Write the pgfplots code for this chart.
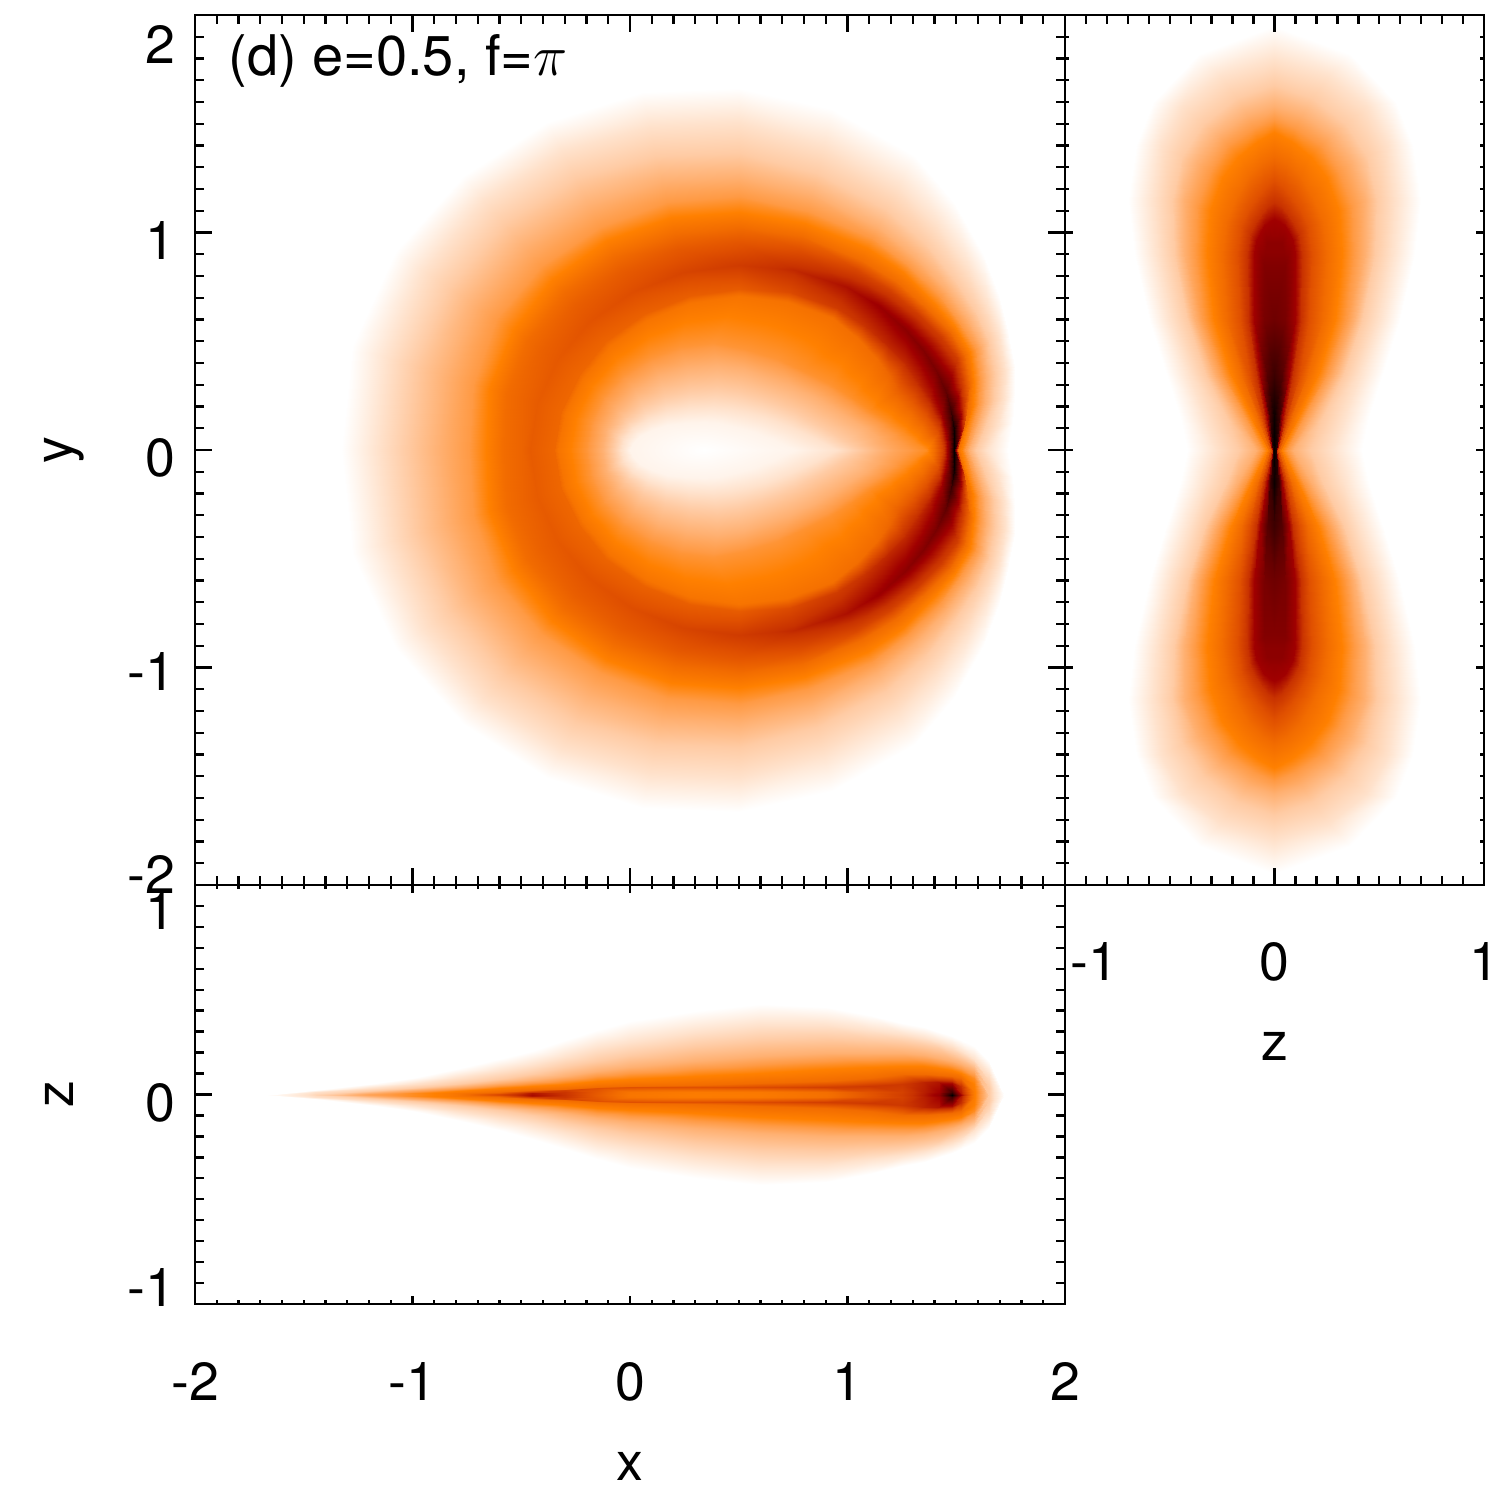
\documentclass[border=0pt]{standalone}
\usepackage{fontspec}
\setmainfont{TeX Gyre Heros}
\usepackage{pgfplots}
\usepackage{pgfplotstable}
\pgfplotsset{compat=1.18}

% x-y panel, upper half: one row per density contour, 17 points along each, from y=0 on the left round to y=0 on the right
\pgfplotstableread[row sep=\\]{
x y c\\
-1.33 0 0\\ -1.278 .476 0\\ -1.08 .91 0\\ -.769 1.262 0\\ -.38 1.51 0\\ .053 1.645 0\\ .5 1.666 0\\ .929 1.567 0\\ 1.304 1.358 0\\ 1.49 1.14 0\\ 1.625 .905 0\\ 1.697 .711 0\\ 1.74 .546 0\\ 1.769 .387 0\\ 1.769 .251 0\\ 1.763 .122 0\\ 1.74 0 0\\
-1.16 0 2\\ -1.115 .425 2\\ -.947 .822 2\\ -.671 1.149 2\\ -.313 1.376 2\\ .09 1.49 2\\ .5 1.506 2\\ .89 1.402 2\\ 1.232 1.215 2\\ 1.413 1.035 2\\ 1.553 .835 2\\ 1.64 .67 2\\ 1.696 .522 2\\ 1.722 .37 2\\ 1.721 .24 2\\ 1.694 .114 2\\ 1.64 0 2\\
-1.03 0 3\\ -.991 .387 3\\ -.831 .744 3\\ -.58 1.043 3\\ -.25 1.25 3\\ .121 1.353 3\\ .5 1.366 3\\ .861 1.275 3\\ 1.179 1.108 3\\ 1.355 .954 3\\ 1.496 .78 3\\ 1.591 .635 3\\ 1.652 .499 3\\ 1.676 .352 3\\ 1.672 .228 3\\ 1.634 .107 3\\ 1.59 0 3\\
-.88 0 4\\ -.848 .342 4\\ -.715 .666 4\\ -.488 .937 4\\ -.188 1.125 4\\ .148 1.236 4\\ .5 1.256 4\\ .838 1.178 4\\ 1.139 1.027 4\\ 1.308 .89 4\\ 1.453 .738 4\\ 1.551 .605 4\\ 1.617 .48 4\\ 1.638 .338 4\\ 1.633 .218 4\\ 1.594 .102 4\\ 1.56 0 4\\
-.74 0 5\\ -.724 .304 5\\ -.615 .60 5\\ -.41 .846 5\\ -.139 1.027 5\\ .171 1.139 5\\ .5 1.166 5\\ .82 1.10 5\\ 1.112 .974 5\\ 1.278 .849 5\\ 1.424 .71 5\\ 1.518 .582 5\\ 1.591 .466 5\\ 1.61 .328 5\\ 1.604 .211 5\\ 1.574 .1 5\\ 1.54 0 5\\
-.66 0 6\\ -.647 .28 6\\ -.54 .55 6\\ -.357 .786 6\\ -.107 .965 6\\ .187 1.071 6\\ .5 1.096 6\\ .806 1.042 6\\ 1.089 .929 6\\ 1.255 .817 6\\ 1.395 .682 6\\ 1.494 .564 6\\ 1.564 .451 6\\ 1.582 .317 6\\ 1.575 .204 6\\ 1.545 .096 6\\ 1.52 0 6\\
-.58 0 7\\ -.571 .257 7\\ -.474 .505 7\\ -.305 .725 7\\ -.072 .893 7\\ .205 .993 7\\ .5 1.026 7\\ .793 .983 7\\ 1.063 .875 7\\ 1.225 .776 7\\ 1.366 .654 7\\ 1.47 .547 7\\ 1.538 .437 7\\ 1.563 .31 7\\ 1.556 .199 7\\ 1.535 .095 7\\ 1.51 0 7\\
-.50 0 7.3\\ -.495 .233 7.3\\ -.408 .461 7.4\\ -.253 .665 7.5\\ -.036 .822 7.6\\ .221 .925 7.7\\ .5 .956 7.8\\ .779 .925 8\\ 1.04 .83 8.3\\ 1.196 .736 8.5\\ 1.331 .62 8.7\\ 1.429 .518 8.7\\ 1.503 .418 8.7\\ 1.526 .296 8.8\\ 1.531 .193 9\\ 1.525 .094 9.5\\ 1.50 0 10\\
-.46 0 7.6\\ -.428 .212 7.6\\ -.337 .414 7.7\\ -.187 .589 7.9\\ .011 .728 8.1\\ .246 .818 8.4\\ .5 .851 8.7\\ .757 .827 9.2\\ 1 .75 9.7\\ 1.143 .663 10.1\\ 1.266 .557 10.4\\ 1.348 .459 10.6\\ 1.406 .366 10.8\\ 1.451 .268 11.3\\ 1.478 .18 12\\ 1.49 .09 12.8\\ 1.488 0 13\\
-.35 0 7.2\\ -.318 .178 7.2\\ -.233 .344 7.2\\ -.109 .499 7.3\\ .063 .625 7.4\\ .27 .71 7.5\\ .5 .741 7.6\\ .733 .725 8.2\\ .951 .652 8.7\\ 1.078 .574 9\\ 1.187 .48 9.2\\ 1.263 .398 9.2\\ 1.318 .319 9.2\\ 1.381 .242 9.5\\ 1.429 .168 10\\ 1.465 .086 11\\ 1.47 0 11\\
-.33 0 6.6\\ -.299 .172 6.6\\ -.217 .333 6.6\\ -.093 .48 6.6\\ .076 .598 6.6\\ .278 .676 6.6\\ .5 .706 6.6\\ .723 .681 6.7\\ .928 .607 6.8\\ 1.04 .521 6.9\\ 1.13 .425 7\\ 1.19 .345 7.2\\ 1.23 .271 7.4\\ 1.301 .212 7.6\\ 1.361 .151 7.8\\ 1.416 .08 8\\ 1.44 0 8.5\\
-.20 0 5.2\\ -.18 .127 5.2\\ -.122 .245 5.2\\ -.03 .346 5.2\\ .09 .424 5.2\\ .23 .473 5.2\\ .38 .49 5.2\\ .527 .466 5.2\\ .674 .417 5.2\\ .792 .368 5.3\\ .919 .304 5.3\\ 1.017 .245 5.4\\ 1.105 .186 5.5\\ 1.193 .127 5.5\\ 1.262 .076 5.5\\ 1.311 .039 5.5\\ 1.36 0 5.5\\
-.13 0 4\\ -.112 .101 4\\ -.059 .195 4\\ .025 .276 4\\ .135 .338 4\\ .263 .377 4\\ .40 .39 4\\ .523 .371 4\\ .646 .332 4\\ .744 .293 4\\ .851 .242 4\\ .933 .195 4\\ 1.007 .148 4\\ 1.081 .101 4\\ 1.138 .06 4.2\\ 1.179 .031 4.4\\ 1.22 0 4.5\\
-.08 0 3\\ -.064 .073 3\\ -.016 .14 3\\ .061 .198 3\\ .16 .242 3\\ .276 .27 3\\ .4 .28 3\\ .498 .266 3\\ .595 .238 3\\ .673 .21 3\\ .758 .174 3\\ .823 .14 3\\ .881 .106 3\\ .94 .073 3\\ .985 .043 3\\ 1.018 .022 3\\ 1.05 0 3\\
-.04 0 2\\ -.026 .052 2\\ .016 .10 2\\ .083 .141 2\\ .17 .173 2\\ .271 .193 2\\ .38 .2 2\\ .466 .19 2\\ .551 .17 2\\ .619 .15 2\\ .694 .124 2\\ .751 .10 2\\ .802 .076 2\\ .853 .052 2\\ .893 .031 2\\ .922 .016 2\\ .95 0 2\\
0 0 .8\\ .012 .034 .8\\ .046 .065 .8\\ .10 .092 .8\\ .17 .113 .8\\ .252 .126 .8\\ .34 .13 .8\\ .403 .124 .8\\ .466 .11 .8\\ .516 .098 .8\\ .571 .081 .8\\ .613 .065 .8\\ .651 .049 .8\\ .689 .034 .8\\ .718 .02 .8\\ .739 .01 .8\\ .76 0 .8\\
.34 0 0\\ .34 0 0\\ .34 0 0\\ .34 0 0\\ .34 0 0\\ .34 0 0\\ .34 0 0\\ .34 0 0\\ .34 0 0\\ .34 0 0\\ .34 0 0\\ .34 0 0\\ .34 0 0\\ .34 0 0\\ .34 0 0\\ .34 0 0\\ .34 0 0\\
}\xyhalf

% z-y panel, one quadrant: 10 points along each contour, from the waist at y=0 to the tip at z=0
\pgfplotstableread[row sep=\\]{
z y c\\
.42 0 0\\ .45 .15 0\\ .52 .35 0\\ .60 .6 0\\ .67 .9 0\\ .70 1.15 0\\ .66 1.4 0\\ .58 1.6 0\\ .36 1.82 0\\ 0 1.95 0\\
.28 0 2\\ .33 .15 2\\ .41 .35 2\\ .50 .6 2\\ .56 .9 2\\ .58 1.15 2\\ .54 1.4 2\\ .44 1.58 2\\ .26 1.72 2\\ 0 1.8 2\\
.17 0 3\\ .23 .15 3\\ .33 .35 3\\ .42 .6 3\\ .48 .9 3\\ .49 1.15 3\\ .44 1.35 3\\ .34 1.5 3\\ .18 1.62 3\\ 0 1.68 3\\
.09 0 4\\ .18 .15 4\\ .29 .35 4\\ .38 .6 4\\ .43 .9 4\\ .43 1.15 4\\ .37 1.32 4\\ .27 1.45 4\\ .13 1.54 4\\ 0 1.58 4\\
.06 0 5\\ .14 .15 5\\ .25 .35 5\\ .34 .6 5\\ .38 .9 5\\ .37 1.12 5\\ .31 1.28 5\\ .22 1.4 5\\ .1 1.48 5\\ 0 1.52 5\\
.035 0 6\\ .11 .15 6\\ .21 .35 6\\ .29 .6 6\\ .32 .9 6\\ .31 1.1 6\\ .25 1.25 6\\ .17 1.35 6\\ .08 1.42 6\\ 0 1.46 6\\
.025 0 7\\ .085 .15 7\\ .16 .35 7\\ .23 .6 7\\ .25 .9 7\\ .23 1.05 7\\ .18 1.17 7\\ .12 1.26 7\\ .06 1.32 7\\ 0 1.35 7\\
.018 0 8\\ .065 .15 8\\ .12 .35 8\\ .165 .6 8\\ .18 .9 8\\ .16 1.03 8\\ .12 1.11 8\\ .08 1.17 8\\ .04 1.21 8\\ 0 1.24 8\\
.014 0 9\\ .05 .15 9\\ .09 .35 9\\ .125 .6 9\\ .13 .9 9\\ .115 1.0 9\\ .09 1.05 9\\ .06 1.09 9\\ .03 1.12 9\\ 0 1.14 9\\
.01 0 10\\ .035 .15 10\\ .07 .35 10\\ .10 .6 10\\ .1 .9 10\\ .09 .96 10\\ .07 1.0 10\\ .05 1.03 10\\ .025 1.05 10\\ 0 1.06 10\\
.007 0 12.5\\ .02 .15 12\\ .035 .35 11.5\\ .05 .6 10.8\\ .05 .85 10.6\\ .045 .91 10.4\\ .035 .95 10.4\\ .02 .97 10.3\\ .01 .99 10.2\\ 0 1 10.2\\
0 0 13\\ 0 .15 12.8\\ 0 .35 12\\ 0 .6 11\\ 0 .85 10.6\\ 0 .91 10.4\\ 0 .95 10.4\\ 0 .97 10.3\\ 0 .99 10.2\\ 0 1 10.2\\
}\zyquad

% x-z panel, upper half: 22 columns in x, 9 rows from the edge in to z=0
\pgfplotstableread[row sep=\\]{
x z c\\
-1.67 0 0\\ -1.45 .02 0\\ -1.2 .05 0\\ -1.0 .08 0\\ -.8 .12 0\\ -.6 .17 0\\ -.45 .21 0\\ -.3 .26 0\\ -.15 .31 0\\ 0 .35 0\\ .3 .40 0\\ .6 .43 0\\ .9 .42 0\\ 1.1 .38 0\\ 1.25 .34 0\\ 1.35 .32 0\\ 1.42 .30 0\\ 1.48 .28 0\\ 1.52 .26 0\\ 1.58 .23 0\\ 1.65 .16 0\\ 1.72 0 0\\
-1.67 0 0\\ -1.45 .01 2\\ -1.2 .03 2\\ -1.0 .05 2\\ -.8 .08 2\\ -.6 .11 2\\ -.45 .14 2\\ -.3 .18 2\\ -.15 .22 2\\ 0 .25 2\\ .3 .3 2\\ .6 .33 2\\ .9 .33 2\\ 1.1 .31 2\\ 1.25 .29 2\\ 1.35 .27 2\\ 1.42 .25 2\\ 1.48 .23 2\\ 1.52 .21 2\\ 1.58 .17 2\\ 1.65 .10 2\\ 1.72 0 0\\
-1.67 0 0\\ -1.45 .003 2.4\\ -1.2 .015 3\\ -1.0 .03 3\\ -.8 .05 3\\ -.6 .075 3\\ -.45 .10 3\\ -.3 .13 3\\ -.15 .16 3\\ 0 .19 3\\ .3 .23 3\\ .6 .26 3\\ .9 .27 3\\ 1.1 .26 3\\ 1.25 .25 3\\ 1.35 .235 3\\ 1.42 .22 3\\ 1.48 .2 3\\ 1.52 .18 3\\ 1.58 .145 3\\ 1.65 .07 2.5\\ 1.72 0 0\\
-1.67 0 0\\ -1.45 0 2.5\\ -1.2 .008 4\\ -1.0 .02 4\\ -.8 .035 4\\ -.6 .055 4\\ -.45 .07 4\\ -.3 .09 4\\ -.15 .11 4\\ 0 .13 4\\ .3 .16 4\\ .6 .185 4\\ .9 .2 4\\ 1.1 .2 4\\ 1.25 .2 4\\ 1.35 .19 4\\ 1.42 .175 4\\ 1.48 .16 4\\ 1.52 .145 4\\ 1.58 .115 4\\ 1.65 .03 3\\ 1.72 0 0\\
-1.67 0 0\\ -1.45 0 2.5\\ -1.2 .003 4.5\\ -1.0 .008 5.5\\ -.8 .015 6\\ -.6 .03 6\\ -.45 .04 6\\ -.3 .05 6\\ -.15 .065 6\\ 0 .075 6\\ .3 .09 6\\ .6 .105 6\\ .9 .12 6\\ 1.1 .13 6\\ 1.25 .135 6\\ 1.35 .135 6\\ 1.42 .125 6\\ 1.48 .115 6\\ 1.52 .105 6\\ 1.58 .08 5.5\\ 1.65 0 3\\ 1.72 0 0\\
-1.67 0 0\\ -1.45 0 2.5\\ -1.2 0 4.5\\ -1.0 .003 5.5\\ -.8 .006 6.5\\ -.6 .012 7\\ -.45 .02 7\\ -.3 .028 7\\ -.15 .035 7\\ 0 .04 7\\ .3 .045 7\\ .6 .055 7\\ .9 .065 7\\ 1.1 .08 7\\ 1.25 .1 7\\ 1.35 .1 7\\ 1.42 .095 7\\ 1.48 .09 7\\ 1.52 .08 7\\ 1.58 .05 6\\ 1.65 0 3\\ 1.72 0 0\\
-1.67 0 0\\ -1.45 0 2.5\\ -1.2 0 4.5\\ -1.0 0 5.5\\ -.8 .002 6.5\\ -.6 .006 7.5\\ -.45 .012 8.8\\ -.3 .02 8.5\\ -.15 .03 8\\ 0 .034 8\\ .3 .035 8\\ .6 .035 8.2\\ .9 .035 8.6\\ 1.1 .04 8.8\\ 1.25 .05 8.8\\ 1.35 .06 9.3\\ 1.42 .06 9.6\\ 1.48 .055 9.8\\ 1.52 .04 9\\ 1.58 .015 6.2\\ 1.65 0 3\\ 1.72 0 0\\
-1.67 0 0\\ -1.45 0 2.5\\ -1.2 0 4.5\\ -1.0 0 5.5\\ -.8 .001 6.5\\ -.6 .003 8.2\\ -.45 .006 9.6\\ -.3 .01 8.9\\ -.15 .012 7.7\\ 0 .012 6.6\\ .3 .012 6.3\\ .6 .012 6.4\\ .9 .012 6.9\\ 1.1 .012 7.9\\ 1.25 .012 8.5\\ 1.35 .012 9.4\\ 1.42 .012 10\\ 1.48 .012 12\\ 1.52 .006 9.5\\ 1.58 0 6.2\\ 1.65 0 3\\ 1.72 0 0\\
-1.67 0 0\\ -1.45 0 2.5\\ -1.2 0 4.5\\ -1.0 0 5.5\\ -.8 0 6.5\\ -.6 0 8.5\\ -.45 0 9.8\\ -.3 0 9\\ -.15 0 7.6\\ 0 0 6.5\\ .3 0 6.2\\ .6 0 6.3\\ .9 0 6.8\\ 1.1 0 7.8\\ 1.25 0 8.6\\ 1.35 0 9.5\\ 1.42 0 10.3\\ 1.48 0 13\\ 1.52 0 10\\ 1.58 0 6.2\\ 1.65 0 3\\ 1.72 0 0\\
}\xzhalf

\pgfplotsset{
  colormap={dens}{
    rgb255(0)=(255,255,255) rgb255(1)=(255,241,230) rgb255(2)=(255,226,204) rgb255(3)=(255,203,164)
    rgb255(4)=(255,176,113) rgb255(5)=(255,154,68) rgb255(6)=(255,128,0) rgb255(7)=(242,108,0)
    rgb255(8)=(224,80,0) rgb255(9)=(200,50,0) rgb255(10)=(160,0,0) rgb255(11)=(110,0,0)
    rgb255(12)=(60,0,0) rgb255(13)=(0,0,0)
  },
  % the map itself, no frame
  map/.style={
    scale only axis, anchor=south west, hide axis, view={0}{90},
    colormap name=dens, point meta min=0, point meta max=13,
  },
  dens/.style={surf, shader=interp, forget plot, point meta=\thisrow{c}},
  % frame and ticks, drawn over the map
  panel/.style={
    scale only axis, anchor=south west,
    tick align=inside, xtick pos=both, ytick pos=both,
    axis line style={line width=0.7pt},
    tick style={line width=0.6pt, black},
    major tick length=4.25pt, minor tick length=2.25pt,
    minor x tick num=9, minor y tick num=9,
    tick label style={font=\fontsize{13.4}{16}\selectfont},
    label style={font=\fontsize{13.4}{16}\selectfont},
  },
  short/.style={major tick length=2.1pt, minor tick length=1.1pt},
}
\newcommand\yl[2]{\raisebox{#1}[9.5pt][0pt]{#2}}
\newcommand\xl[2]{\makebox[0pt]{\hspace{#1}#2}}

\begin{document}
\begin{tikzpicture}

% x-y panel
\begin{axis}[map, at={(48.75pt,153.75pt)}, width=217.5pt, height=217.5pt,
  xmin=-2, xmax=2, ymin=-2, ymax=2]
\addplot3[dens, mesh/cols=17] table[x=x, y=y, z expr=0] {\xyhalf};
\addplot3[dens, mesh/cols=17] table[x=x, y expr=-\thisrow{y}, z expr=0] {\xyhalf};
\end{axis}
\begin{axis}[panel, at={(48.75pt,153.75pt)}, width=217.5pt, height=217.5pt,
  xmin=-2, xmax=2, ymin=-2, ymax=2,
  xtick={-2,-1,0,1,2}, xticklabels={},
  ytick={-2,-1,0,1,2},
  yticklabels={\yl{2.7pt}{-2},\yl{-1pt}{-1},\yl{-2pt}{0},\yl{-2pt}{1},\yl{-7.5pt}{2}},
  yticklabel style={xshift=-1.5pt},
  ylabel={y}, ylabel style={yshift=4pt},
]
\node[anchor=west, inner sep=0pt, font=\fontsize{14}{16}\selectfont] at (axis cs:-1.85,1.79) {(d) e=0.5, f=$\pi$};
\end{axis}

% z-y panel
\begin{axis}[map, at={(266.25pt,153.75pt)}, width=104.75pt, height=217.5pt,
  xmin=-1, xmax=1, ymin=-2, ymax=2]
\addplot3[dens, mesh/cols=10] table[x=z, y=y, z expr=0] {\zyquad};
\addplot3[dens, mesh/cols=10] table[x expr=-\thisrow{z}, y=y, z expr=0] {\zyquad};
\addplot3[dens, mesh/cols=10] table[x=z, y expr=-\thisrow{y}, z expr=0] {\zyquad};
\addplot3[dens, mesh/cols=10] table[x expr=-\thisrow{z}, y expr=-\thisrow{y}, z expr=0] {\zyquad};
\end{axis}
\begin{axis}[panel, at={(266.25pt,153.75pt)}, width=104.75pt, height=217.5pt,
  xmin=-1, xmax=1, ymin=-2, ymax=2,
  xtick={-1,0,1}, xticklabels={\xl{14.5pt}{-1},0,1}, xticklabel style={yshift=-10.75pt},
  ytick=\empty, xlabel={z}, xlabel style={yshift=-6pt},
]
\end{axis}
\begin{axis}[panel, short, at={(266.25pt,153.75pt)}, width=104.75pt, height=217.5pt,
  xmin=-1, xmax=1, ymin=-2, ymax=2, xtick=\empty, ytick={-2,-1,0,1,2}, yticklabels={},
]
\end{axis}

% x-z panel
\begin{axis}[map, at={(48.75pt,49pt)}, width=217.5pt, height=104.75pt,
  xmin=-2, xmax=2, ymin=-1, ymax=1]
\addplot3[dens, mesh/cols=22] table[x=x, y=z, z expr=0] {\xzhalf};
\addplot3[dens, mesh/cols=22] table[x=x, y expr=-\thisrow{z}, z expr=0] {\xzhalf};
\end{axis}
\begin{axis}[panel, short, at={(48.75pt,49pt)}, width=217.5pt, height=104.75pt,
  xmin=-2, xmax=2, ymin=-1, ymax=1,
  xtick={-2,-1,0,1,2}, xticklabels={-2,-1,0,1,2}, xticklabel style={yshift=-11pt},
  ytick=\empty, xlabel={x}, xlabel style={yshift=-6pt},
]
\end{axis}
\begin{axis}[panel, at={(48.75pt,49pt)}, width=217.5pt, height=104.75pt,
  xmin=-2, xmax=2, ymin=-1, ymax=1, xtick=\empty,
  ytick={-1,0,1}, yticklabels={\yl{4pt}{-1},\yl{-2pt}{0},\yl{-6.25pt}{1}}, yticklabel style={xshift=-1.5pt},
  ylabel={z}, ylabel style={yshift=6.5pt},
]
\end{axis}

\pgfresetboundingbox
\path[use as bounding box] (0,0) rectangle (375pt,375pt);
\end{tikzpicture}
\end{document}
